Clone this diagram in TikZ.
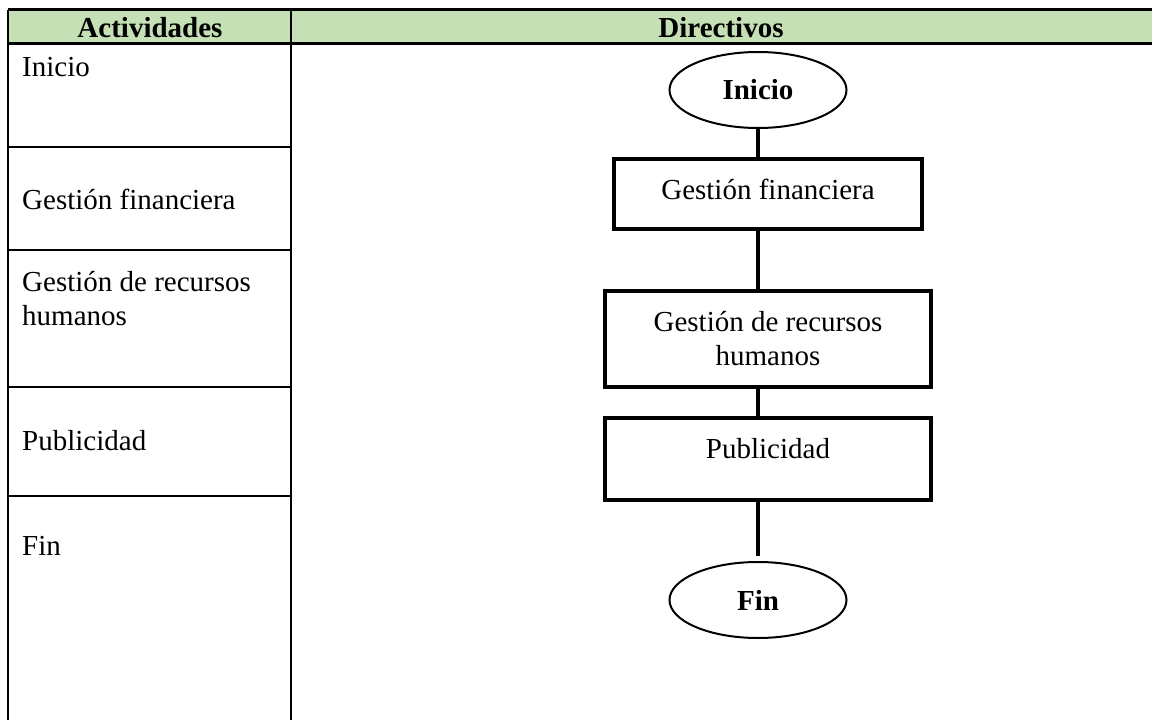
\documentclass[tikz,border=0pt]{standalone}
\usepackage{fontspec}
\setmainfont{Liberation Serif}
\usepackage{tikz}
\usetikzlibrary{shapes.geometric}

\definecolor{headgreen}{HTML}{C5E0B4}
\newcommand{\cellfont}{\fontsize{29bp}{34bp}\selectfont}

\tikzset{
  terminal/.style={draw,ellipse,line width=2bp,minimum width=177bp,minimum height=76bp,inner sep=0pt,font=\cellfont\bfseries},
  process/.style={draw,rectangle,line width=4bp,align=center,inner sep=0pt,font=\cellfont},
  cell/.style={anchor=base west,inner sep=0pt,align=left,font=\cellfont},
  link/.style={line width=4bp},
  grid/.style={line width=2bp}
}

\begin{document}
\begin{tikzpicture}[x=1bp,y=-1bp]
        \useasboundingbox (0,0) rectangle (1152,720);

        % table
        \fill[headgreen] (8,10) rectangle (1152,44);
        \draw[line width=3bp] (8,10) -- (1152,10)
                              (8,44) -- (1152,44);
        \draw[grid] (8,10) -- (8,720)
                    (291,10) -- (291,720);
        \foreach \y in {147,250,387,496}
            \draw[grid] (8,\y) -- (291,\y);

        \node (hAct) at (150,28) [font=\cellfont\bfseries] {Actividades};
        \node (hDir) at (721,28) [font=\cellfont\bfseries] {Directivos};

        \node (aInicio) at (22,77)  [cell] {Inicio};
        \node (aFin)    at (22,210) [cell] {Gestión financiera};
        \node (aRh)     at (22,325) [cell] {Gestión de recursos\\humanos};
        \node (aPub)    at (22,450) [cell] {Publicidad};
        \node (aEnd)    at (22,555) [cell] {Fin};

        % flowchart
        \node (Dinicio) at (758,90)  [terminal] {Inicio};
        \node (Dfin)    at (768,194) [process,minimum width=308bp,minimum height=70bp,text depth=9bp] {Gestión financiera};
        \node (Drh)     at (768,339) [process,minimum width=326bp,minimum height=96bp] {Gestión de recursos\\humanos};
        \node (Dpub)    at (768,459) [process,minimum width=326bp,minimum height=82bp,text depth=22bp] {Publicidad};
        \node (Dend)    at (758,600) [terminal] {Fin};

        \draw[link] (Dinicio.south) -- (Dinicio.south |- Dfin.north);
        \draw[link] (Dinicio.south |- Dfin.south) -- (Dinicio.south |- Drh.north);
        \draw[link] (Dinicio.south |- Drh.south) -- (Dinicio.south |- Dpub.north);
        \draw[link,shorten >=5bp] (Dinicio.south |- Dpub.south) -- (Dend.north);
\end{tikzpicture}
\end{document}
